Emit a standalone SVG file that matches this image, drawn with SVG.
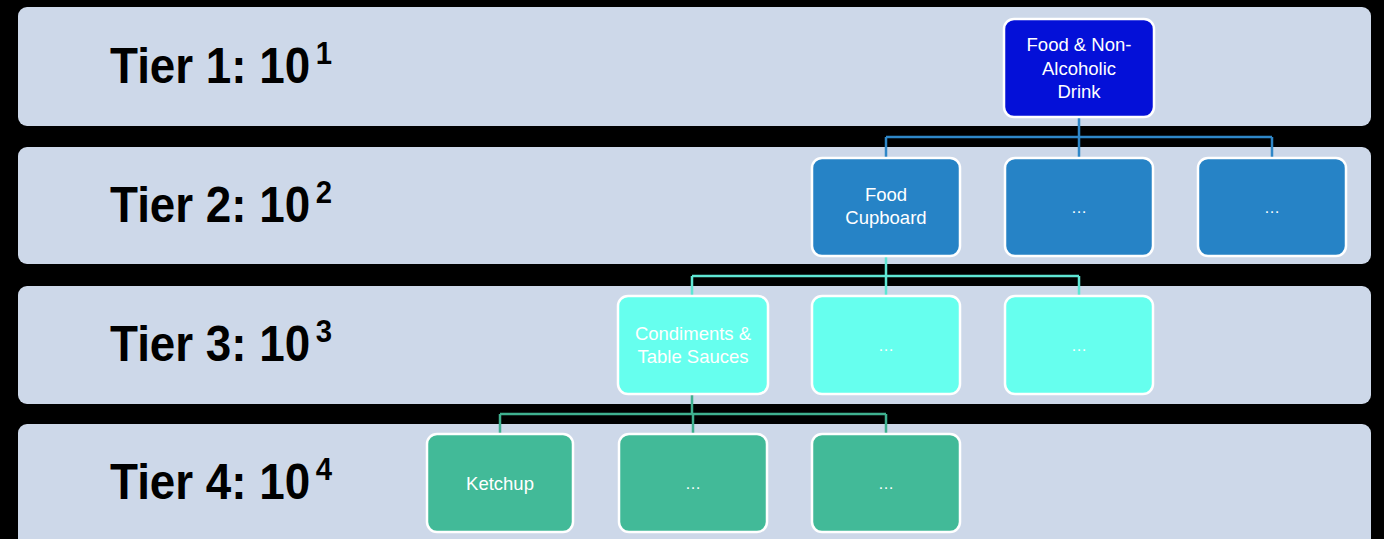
<svg xmlns="http://www.w3.org/2000/svg" width="1384" height="539" viewBox="0 0 1384 539">
  <style>
    .band { fill: #cdd8e9; }
    .tier { font-family: "Liberation Sans", Arial, sans-serif; font-weight: bold; font-size: 50px; fill: #000; }
    .sup { font-size: 32px; }
    .node { stroke: #ffffff; stroke-width: 2.5; }
    .t1 { fill: #0410d8; }
    .t2 { fill: #2683c6; }
    .t3 { fill: #66ffee; }
    .t4 { fill: #42ba98; }
    .lbl { font-family: "Liberation Sans", Arial, sans-serif; font-size: 18.5px; fill: #ffffff; text-anchor: middle; }
    .dots { font-family: "Liberation Sans", Arial, sans-serif; font-size: 16px; fill: #ffffff; text-anchor: middle; }
    .c1 { stroke: #2f87c8; stroke-width: 2.5; fill: none; }
    .c2 { stroke: #5fe6d4; stroke-width: 2.5; fill: none; }
    .c3 { stroke: #3fb08f; stroke-width: 2.5; fill: none; }
  </style>
  <rect width="1384" height="539" fill="#000000"/>

  <!-- tier bands -->
  <g id="bands">
    <rect class="band" x="18" y="7" width="1353" height="119" rx="9"/>
    <rect class="band" x="18" y="147" width="1353" height="117" rx="9"/>
    <rect class="band" x="18" y="286" width="1353" height="118" rx="9"/>
    <rect class="band" x="18" y="424" width="1353" height="125" rx="9"/>
  </g>

  <!-- tier labels with superscript exponent -->
  <g id="tier-labels">
    <text class="tier" x="110" y="83" textLength="222" lengthAdjust="spacingAndGlyphs">Tier 1: 10<tspan class="sup" dx="6" dy="-19">1</tspan></text>
    <text class="tier" x="110" y="222" textLength="222" lengthAdjust="spacingAndGlyphs">Tier 2: 10<tspan class="sup" dx="6" dy="-19">2</tspan></text>
    <text class="tier" x="110" y="361" textLength="222" lengthAdjust="spacingAndGlyphs">Tier 3: 10<tspan class="sup" dx="6" dy="-19">3</tspan></text>
    <text class="tier" x="110" y="499" textLength="222" lengthAdjust="spacingAndGlyphs">Tier 4: 10<tspan class="sup" dx="6" dy="-19">4</tspan></text>
  </g>

  <!-- connectors -->
  <g id="connectors">
    <path class="c1" d="M1079 117 V137 M886 137 H1272 M886 137 V158 M1079 137 V158 M1272 137 V158"/>
    <path class="c2" d="M886 256 V276 M692 276 H1079 M692 276 V296 M886 276 V296 M1079 276 V296"/>
    <path class="c3" d="M692 394 V414 M500 414 H886 M500 414 V434 M693 414 V434 M886 414 V434"/>
  </g>

  <!-- tier 1 -->
  <g id="n-food-drink">
    <rect class="node t1" x="1004" y="19" width="150" height="98" rx="10"/>
    <text class="lbl" x="1079" y="51">Food &amp; Non-</text>
    <text class="lbl" x="1079" y="74.5">Alcoholic</text>
    <text class="lbl" x="1079" y="98">Drink</text>
  </g>

  <!-- tier 2 -->
  <g id="n-food-cupboard">
    <rect class="node t2" x="812" y="158" width="148" height="98" rx="10"/>
    <text class="lbl" x="886" y="201">Food</text>
    <text class="lbl" x="886" y="224">Cupboard</text>
  </g>
  <g id="n-t2-b">
    <rect class="node t2" x="1005" y="158" width="148" height="98" rx="10"/>
    <text class="dots" x="1079" y="213">…</text>
  </g>
  <g id="n-t2-c">
    <rect class="node t2" x="1198" y="158" width="148" height="98" rx="10"/>
    <text class="dots" x="1272" y="213">…</text>
  </g>

  <!-- tier 3 -->
  <g id="n-condiments">
    <rect class="node t3" x="618" y="296" width="150" height="98" rx="10"/>
    <text class="lbl" x="693" y="340">Condiments &amp;</text>
    <text class="lbl" x="693" y="363">Table Sauces</text>
  </g>
  <g id="n-t3-b">
    <rect class="node t3" x="812" y="296" width="148" height="98" rx="10"/>
    <text class="dots" x="886" y="351">…</text>
  </g>
  <g id="n-t3-c">
    <rect class="node t3" x="1005" y="296" width="148" height="98" rx="10"/>
    <text class="dots" x="1079" y="351">…</text>
  </g>

  <!-- tier 4 -->
  <g id="n-ketchup">
    <rect class="node t4" x="427" y="434" width="146" height="98" rx="10"/>
    <text class="lbl" x="500" y="490">Ketchup</text>
  </g>
  <g id="n-t4-b">
    <rect class="node t4" x="619" y="434" width="148" height="98" rx="10"/>
    <text class="dots" x="693" y="489">…</text>
  </g>
  <g id="n-t4-c">
    <rect class="node t4" x="812" y="434" width="148" height="98" rx="10"/>
    <text class="dots" x="886" y="489">…</text>
  </g>
</svg>
